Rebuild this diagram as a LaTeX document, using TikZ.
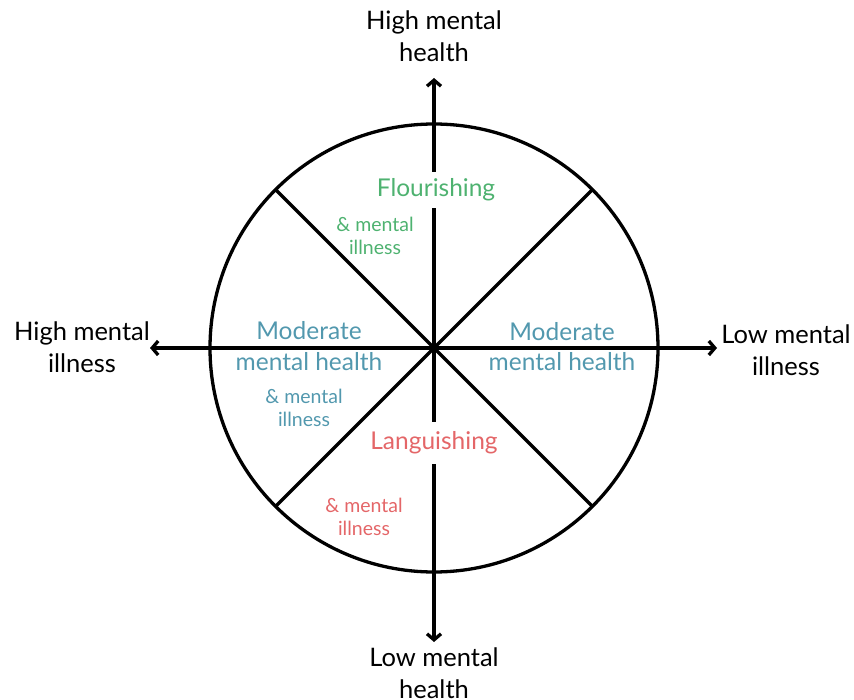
\documentclass[tikz,border=0pt]{standalone}
\usepackage{fontspec}
\setmainfont{Lato}
\usetikzlibrary{arrows.meta,calc}
\definecolor{flgreen}{RGB}{78,178,112}
\definecolor{modblue}{RGB}{82,152,174}
\definecolor{lanred}{RGB}{228,102,104}
\begin{document}
\begin{tikzpicture}[x=1pt,y=-1pt,
  thickline/.style={line width=3.3pt},
  axis/.style={line width=3.3pt,-{Straight Barb[length=6pt,width=14pt,line width=3.3pt]}},
  biglabel/.style={align=center,font=\fontsize{25.5}{32}\selectfont,text=black,inner sep=0pt},
  zonelabel/.style={align=center,font=\fontsize{24.5}{30}\selectfont,inner sep=0pt},
  smalllabel/.style={align=center,font=\fontsize{19.5}{23}\selectfont,inner sep=0pt}]
\useasboundingbox (0,0) rectangle (854,700);
\coordinate (O) at (434,348);
\coordinate (top) at (434,78);
\coordinate (bot) at (434,642);
\coordinate (lft) at (150,348);
\coordinate (rgt) at (717,348);
\coordinate (d1) at ($(O)+(135:224)$);
\coordinate (d2) at ($(O)+(-45:224)$);
\coordinate (d3) at ($(O)+(45:224)$);
\coordinate (d4) at ($(O)+(-135:224)$);
\draw[thickline] (O) circle[radius=224];
\draw[thickline] (d1) -- (d2);
\draw[thickline] (d3) -- (d4);
\draw[axis] (O) -- (top);
\draw[axis] (O) -- (bot);
\draw[axis] (O) -- (lft);
\draw[axis] (O) -- (rgt);
% axis end labels
\node[biglabel] (hmh) at (434,36) {High mental\\health};
\node[biglabel] (lmh) at (434,673) {Low mental\\health};
\node[biglabel] (hmi) at (82,347) {High mental\\illness};
\node[biglabel] (lmi) at (786,350) {Low mental\\illness};
% zone labels
\node[zonelabel,text=flgreen,fill=white,inner xsep=4pt,inner ysep=7pt] (flo) at (436,190) {Flourishing};
\node[smalllabel,text=flgreen] (flx) at (375,236) {\& mental\\illness};
\node[zonelabel,text=modblue] (mod1a) at (309,331) {Moderate};
\node[zonelabel,text=modblue] (mod1b) at (309,362) {mental health};
\node[smalllabel,text=modblue] (modx) at (304,408) {\& mental\\illness};
\node[zonelabel,text=modblue] (mod2a) at (562,332) {Moderate};
\node[zonelabel,text=modblue] (mod2b) at (562,362) {mental health};
\node[zonelabel,text=lanred,fill=white,inner xsep=4pt,inner ysep=10pt] (lan) at (434,443) {Languishing};
\node[smalllabel,text=lanred] (lanx) at (364,517) {\& mental\\illness};
\end{tikzpicture}
\end{document}
